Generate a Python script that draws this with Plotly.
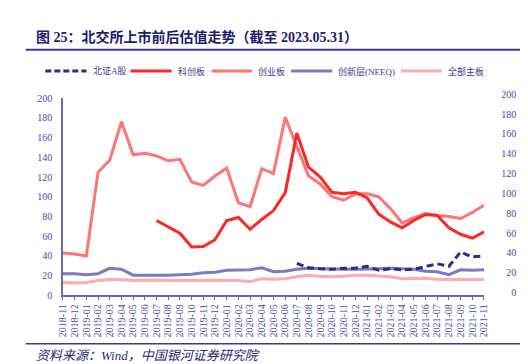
import plotly.graph_objects as go

W, H = 528, 364
def px(x): return x / W
def py(y): return 1 - y / H

months = ["2018-11", "2018-12", "2019-01", "2019-02", "2019-03", "2019-04", "2019-05",
          "2019-06", "2019-07", "2019-08", "2019-09", "2019-10", "2019-11", "2019-12",
          "2020-01", "2020-02", "2020-03", "2020-04", "2020-05", "2020-06", "2020-07",
          "2020-08", "2020-09", "2020-10", "2020-11", "2020-12", "2021-01", "2021-02",
          "2021-03", "2021-04", "2021-05", "2021-06", "2021-07", "2021-08", "2021-09",
          "2021-10", "2021-11"]

bz_a = [None] * 20 + [32.5, 28, 27, 26.5, 27.5, 27.5, 29.5, 25.5, 27, 26, 26.5, 29.5, 32,
                      29.5, 44, 39, 40]
kcb = [None] * 8 + [76, 69.5, 63, 49, 49.5, 56.5, 76, 79, 67, 77, 86, 104, 164.5, 130, 120,
                    104.5, 103, 104.5, 99, 82.5, 74.5, 68.5, 76, 82, 81, 68.5, 62, 58, 64.5]
cyb = [43, 42, 40, 125, 137, 176, 142.5, 144, 141.5, 136.5, 138, 115, 111.5, 121, 129, 94, 90,
       128.5, 123.5, 180.5, 151, 121, 113, 100, 96.5, 103, 103, 100, 88, 73.5, 78.5, 83, 81,
       80, 78, 84, 91.5]
cxc = [22, 22, 21, 22, 27.5, 26.5, 20.5, 20.5, 20, 20.5, 21, 21.5, 23, 23.5, 25.5, 26, 26, 28,
       24, 24.5, 26.5, 27.5, 27, 26.5, 26.5, 26.5, 26.5, 27, 27.5, 27, 26.5, 24.5, 24, 21, 26,
       25.5, 26]
zb = [13, 12.5, 13, 15, 16, 16, 15, 15.5, 15.5, 15, 15, 15, 15, 15, 15.5, 15, 14, 17, 16.5, 17,
      19, 20.5, 19.5, 19, 19.5, 20.5, 20.5, 20, 19, 17, 17.5, 17.5, 16.5, 16, 16, 16, 16]

# second (cropped) panel on the right
days2 = ["11-15", "11-16"]
bz_a2 = [42, 40]
kcb2 = [62, 65]
cyb2 = [89, 90.5]
cxc2 = [25.5, 25.5]
zb2 = [17, 17]

names = ["北证A股", "科创板", "创业板", "创新层(NEEQ)", "全部主板"]
colors = ["#2D2B8C", "#FF2626", "#FF7474", "#7C79C0", "#FFABAB"]
dashes = ["7px,4px", "solid", "solid", "solid", "solid"]

fig = go.Figure()
main_series = [bz_a, kcb, cyb, cxc, zb]
right_series = [bz_a2, kcb2, cyb2, cxc2, zb2]
order = [4, 3, 2, 1, 0]
for k in order:
    fig.add_trace(go.Scatter(x=months, y=main_series[k], mode="lines", name=names[k],
                             line=dict(color=colors[k], width=3, dash=dashes[k]),
                             xaxis="x", yaxis="y", showlegend=False))
for k in order:
    fig.add_trace(go.Scatter(x=days2, y=right_series[k], mode="lines", name=names[k],
                             line=dict(color=colors[k], width=3, dash=dashes[k]),
                             xaxis="x2", yaxis="y2", showlegend=False))

axcol = "#6B69B5"
tickfont = dict(family="Liberation Serif, serif", size=10, color="#4B4AA6")

fig.update_layout(
    width=W, height=H, margin=dict(l=0, r=0, t=0, b=0),
    paper_bgcolor="white", plot_bgcolor="white", showlegend=False,
    xaxis=dict(domain=[px(50), px(480)], type="category", range=[0, 36], dtick=1,
               showline=True, linecolor=axcol, linewidth=1.5, ticks="outside", ticklen=3,
               tickcolor=axcol, tickangle=-90, tickfont=tickfont, showgrid=False,
               zeroline=False, anchor="y"),
    yaxis=dict(domain=[py(291), py(87)], range=[0, 200], dtick=20, showline=True,
               linecolor=axcol, linewidth=1.5, ticks="", tickfont=tickfont,
               showgrid=False, zeroline=False, anchor="x", ticklabelstandoff=7),
    xaxis2=dict(domain=[px(523), 1], type="category", range=[0, 0.9], showline=True,
                linecolor="#34318C", linewidth=1.5, ticks="outside", ticklen=3,
                tickcolor="#34318C", tickangle=-90, tickfont=tickfont, showgrid=False,
                zeroline=False, anchor="y2"),
    yaxis2=dict(domain=[py(288), py(83)], range=[0, 200], dtick=20, showline=True,
                linecolor="#34318C", linewidth=1.5, ticks="", tickfont=tickfont,
                showgrid=False, zeroline=False, anchor="x2", ticklabelstandoff=6),
)

shapes = [
    dict(type="line", xref="paper", yref="paper", x0=px(12), x1=1, y0=py(37), y1=py(37),
         line=dict(color="#3A3890", width=2)),
    dict(type="line", xref="paper", yref="paper", x0=px(12), x1=1, y0=py(341), y1=py(341),
         line=dict(color="#3A3890", width=1.5)),
]
annotations = [
    dict(text="<b>图 25：北交所上市前后估值走势（截至 2023.05.31）</b>", xref="paper",
         yref="paper", x=px(20), y=py(24), xanchor="left", yanchor="middle", showarrow=False,
         font=dict(family="Liberation Serif, Noto Sans CJK SC", size=14, color="#1E1C6C")),
    dict(text="<i>资料来源：Wind，中国银河证券研究院</i>", xref="paper", yref="paper",
         x=px(20), y=py(353), xanchor="left", yanchor="middle", showarrow=False,
         font=dict(family="Liberation Serif, Noto Sans CJK SC", size=13, color="#2A2878")),
]
leg_x = [(32, 74, 79), (119, 161, 165), (202, 243, 247), (283, 325, 329), (395, 437, 441)]
for k, (a, b, t) in enumerate(leg_x):
    shapes.append(dict(type="line", xref="paper", yref="paper", x0=px(a), x1=px(b),
                       y0=py(59), y1=py(59),
                       line=dict(color=colors[k], width=3,
                                 dash="6px,3px" if k == 0 else "solid")))
    annotations.append(dict(text=names[k], xref="paper", yref="paper", x=px(t), y=py(59),
                            xanchor="left", yanchor="middle", showarrow=False,
                            font=dict(family="Liberation Serif, Noto Sans CJK SC", size=9,
                                      color="#3C3A8E")))
fig.update_layout(shapes=shapes, annotations=annotations)

fig.write_html("out.html")
